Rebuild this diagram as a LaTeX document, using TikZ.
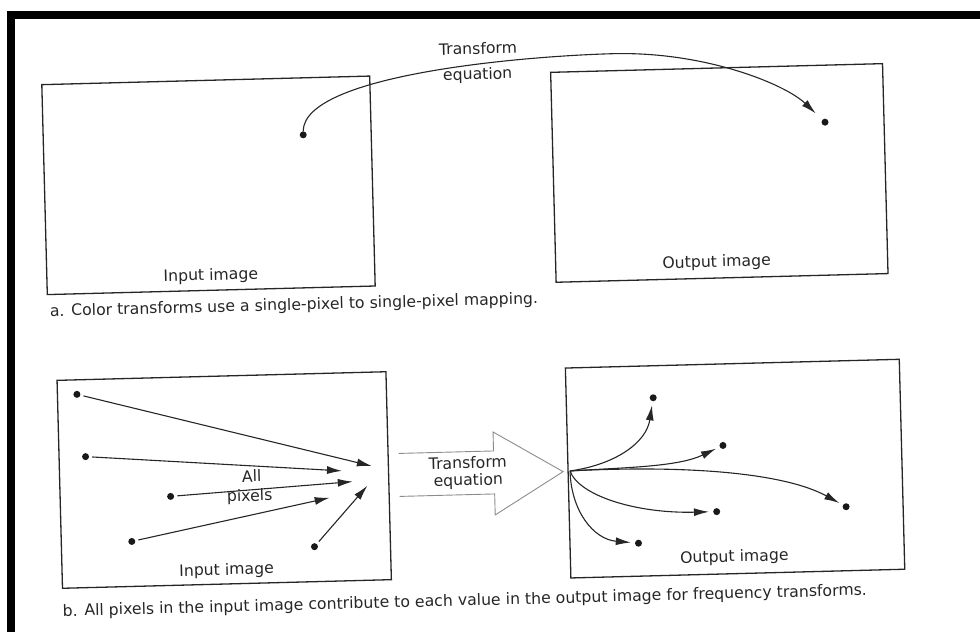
\documentclass[tikz,border=0pt]{standalone}
\usepackage{fontspec}
\setmainfont{DejaVu Sans}
\usetikzlibrary{arrows.meta,positioning}

\begin{document}
\begin{tikzpicture}
  [x=1pt, y=-1pt,
   imgbox/.style={draw=black!85, line width=1.3pt, inner sep=0pt},
   pixel/.style={circle, fill=black!90, inner sep=0pt, minimum size=7pt},
   txt/.style={text=black!85, font=\fontsize{15.7}{17}\selectfont, inner sep=0pt},
   figcap/.style={txt, anchor=base west, font=\fontsize{15.7}{19}\selectfont},
   map/.style={draw=black!85, line width=1.1pt, -{Latex[length=15pt,width=8pt]}},
   bigarrow/.style={draw=black!45, line width=0.9pt}]
  \useasboundingbox (0,0) rectangle (980,632);
  % page frame
  \fill (7,11) rectangle (980,19);
  \fill (7,11) rectangle (15,632);

  \begin{scope}[rotate around={1.5:(490,316)}, transform shape]
  % a. one pixel maps to one pixel
  \node[imgbox, minimum width=328pt, minimum height=210pt] (inA) at (212,178) {};
  \node[imgbox, minimum width=332pt, minimum height=210pt] (outA) at (723,179) {};
  \node[txt, anchor=base] (inAlbl) at (212,273) {Input image};
  \node[txt, anchor=base] (outAlbl) at (718,273) {Output image};
  \node[pixel] (pA) at (308,130) {};
  \node[pixel] (qA) at (830,131) {};
  \node[txt] (eqA1) at (485,48) {Transform};
  \node[txt] (eqA2) at (484,75) {equation};
  \coordinate (top) at (620,57);
  \draw[map, shorten >=9pt] (pA) .. controls +(2,-60) and +(-90,0) .. (top)
    .. controls +(90,0) and +(-40,-40) .. (qA);
  \node[figcap] (capA) at (50,305) {a. Color transforms use a single-pixel to single-pixel mapping.};

  % b. every input pixel feeds every output value
  \node[imgbox, minimum width=329pt, minimum height=208pt] (inB) at (220,473) {};
  \node[imgbox, minimum width=334pt, minimum height=210pt] (outB) at (731,475) {};
  \node[txt, anchor=base] (inBlbl) at (220,568) {Input image};
  \node[txt, anchor=base] (outBlbl) at (728,568) {Output image};

  \node[pixel] (p1) at (75,383.5) {};
  \node[pixel] (p2) at (82,446) {};
  \node[pixel] (p3) at (166,488) {};
  \node[pixel] (p4) at (126,532) {};
  \node[pixel] (p5) at (308.5,542) {};
  \coordinate (t1) at (368,463);
  \coordinate (t2) at (338,467);
  \coordinate (t3) at (348.5,478);
  \coordinate (t4) at (325,493.5);
  \coordinate (t5) at (363,482.5);
  \foreach \i in {1,...,5}
    \draw[map, shorten <=3pt] (p\i) -- (t\i);
  \node[txt] (all) at (247.5,469.5) {All};
  \node[txt] (pix) at (245,490.5) {pixels};

  % open-ended block arrow
  \draw[bigarrow] (395,451) -- (490,451) -- (490,432) -- (559,473.5)
    -- (490,515) -- (490,494) -- (395,494);
  \node[txt, align=center] (eqB) at (464,472) {Transform\\equation};

  \coordinate (orig) at (566,473);
  \node[pixel] (q1) at (651,402) {};
  \node[pixel] (q2) at (719.5,451.5) {};
  \node[pixel] (q3) at (841,516) {};
  \node[pixel] (q4) at (711.5,517.5) {};
  \node[pixel] (q5) at (632.5,547) {};
  \draw[map, shorten >=4pt] (orig) .. controls +(45,-5) and +(-8,45) .. (q1);
  \draw[map, shorten >=4pt] (orig) .. controls +(60,-2) and +(-45,20) .. (q2);
  \draw[map, shorten >=4pt] (orig) .. controls +(120,-3) and +(-60,-35) .. (q3);
  \draw[map, shorten >=4pt] (orig) .. controls +(8,25) and +(-80,0) .. (q4);
  \draw[map, shorten >=4pt] (orig) .. controls +(0,40) and +(-45,-5) .. (q5);

  \node[figcap] (capB) at (55,605) {b. All pixels in the input image contribute to each value in the output image for frequency transforms.};
  \end{scope}
\end{tikzpicture}
\end{document}
